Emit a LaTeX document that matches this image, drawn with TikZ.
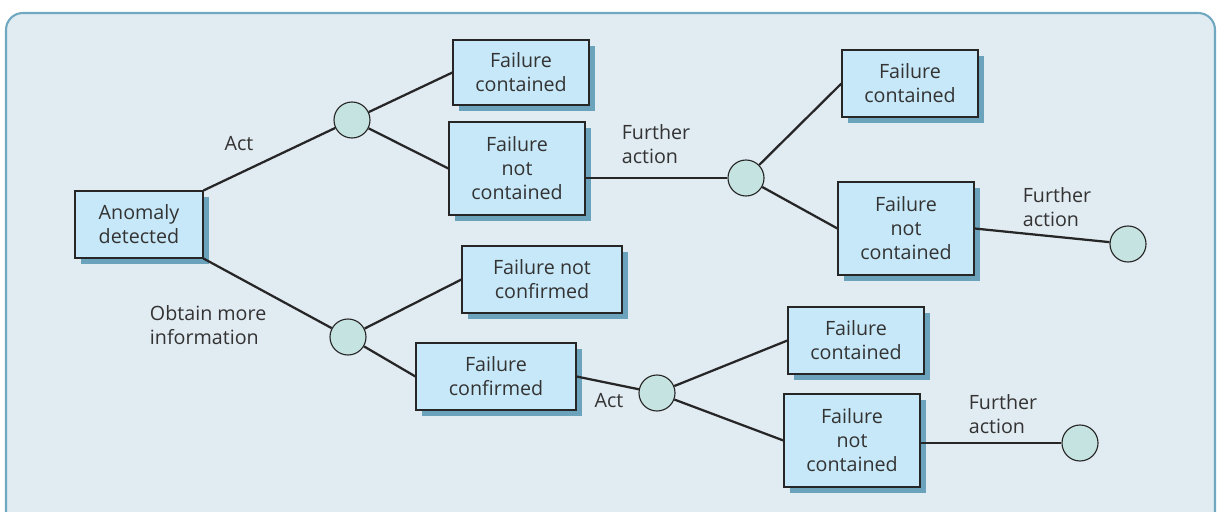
\documentclass[tikz,border=0pt]{standalone}
\usepackage{fontspec}
\setmainfont{Open Sans}
\usetikzlibrary{shadows}
\definecolor{panelbg}{HTML}{E1EBF2}
\definecolor{panelrim}{HTML}{6FA8C0}
\definecolor{boxfill}{HTML}{C7E8F8}
\definecolor{boxshade}{HTML}{6BA3BD}
\definecolor{dotfill}{HTML}{C5E3E0}
\definecolor{ink}{HTML}{333333}
\tikzset{
  outcome/.style={draw=black!85,fill=boxfill,line width=.8pt,align=center,
    text=ink,font=\fontsize{14}{17}\selectfont,inner sep=2pt,
    drop shadow={shadow xshift=.15cm,shadow yshift=-.15cm,fill=boxshade,opacity=1}},
  chance/.style={circle,draw=black!85,fill=dotfill,line width=.8pt,minimum size=.9cm,inner sep=0pt},
  lbl/.style={text=ink,font=\fontsize{14}{17}\selectfont,align=left},
  branch/.style={line width=1.6pt,draw=black!85}
}
\begin{document}
\begin{tikzpicture}[x=.025cm,y=-.025cm]
 \useasboundingbox (0,0) rectangle (1217,512);
 \draw[panelrim,fill=panelbg,line width=1.5pt,rounded corners=12pt] (6,13) rectangle (1215,540);
 % outcomes
 \node[outcome,minimum width=3.2cm,minimum height=1.675cm] (anom) at (139,224.5) {Anomaly\\detected};
 \node[outcome,minimum width=3.4cm,minimum height=1.625cm] (fc1) at (521,72.5) {Failure\\contained};
 \node[outcome,minimum width=3.4cm,minimum height=2.325cm] (fnc1) at (517,168.5) {Failure\\not\\contained};
 \node[outcome,minimum width=3.4cm,minimum height=1.675cm] (fc2) at (910,83.5) {Failure\\contained};
 \node[outcome,minimum width=3.4cm,minimum height=2.325cm] (fnc2) at (906,228.5) {Failure\\not\\contained};
 \node[outcome,minimum width=4cm,minimum height=1.675cm] (fncf) at (542,279.5) {Failure not\\confirmed};
 \node[outcome,minimum width=4cm,minimum height=1.675cm] (fcf) at (496,376.5) {Failure\\confirmed};
 \node[outcome,minimum width=3.4cm,minimum height=1.675cm] (fc3) at (856,340.5) {Failure\\contained};
 \node[outcome,minimum width=3.4cm,minimum height=2.325cm] (fnc3) at (852,440.5) {Failure\\not\\contained};
 % chance points
 \node[chance] (c1) at (352,120) {};
 \node[chance] (c2) at (746,178) {};
 \node[chance] (c3) at (1128,244) {};
 \node[chance] (c4) at (348,337) {};
 \node[chance] (c5) at (657,393) {};
 \node[chance] (c6) at (1080,443) {};
 % branches
 \draw[branch] (anom.north east)--(c1);
 \draw[branch] (anom.south east)--(c4);
 \draw[branch] (c1)--(fc1.west);
 \draw[branch] (c1)--(fnc1.west);
 \draw[branch] (fnc1.east |- c2)--(c2);
 \draw[branch] (c2)--(fc2.west);
 \draw[branch] (c2)--(fnc2.west);
 \draw[branch] (fnc2.east)--(c3);
 \draw[branch] (c4)--(fncf.west);
 \draw[branch] (c4)--(fcf.west);
 \draw[branch] (fcf.east)--(c5);
 \draw[branch] (c5)--(fc3.west);
 \draw[branch] (c5)--(fnc3.west);
 \draw[branch] (fnc3.east |- c6)--(c6);
 % labels
 \node[lbl] (act1) at (239,144) {Act};
 \node[lbl,anchor=west] (more) at (145,325) {Obtain more\\information};
 \node[lbl] (fa1) at (656,144) {Further\\action};
 \node[lbl] (fa2) at (1057,207) {Further\\action};
 \node[lbl] (act2) at (609,401) {Act};
 \node[lbl] (fa3) at (1003,414) {Further\\action};
\end{tikzpicture}
\end{document}
